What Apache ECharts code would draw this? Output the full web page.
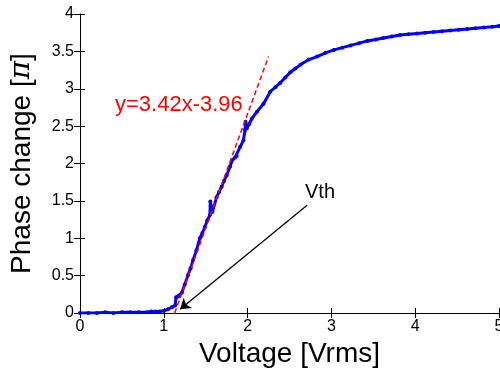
<!DOCTYPE html>
<html>
<head>
<meta charset="utf-8">
<script src="https://cdn.jsdelivr.net/npm/echarts@6/dist/echarts.min.js"></script>
<style>
html, body { margin: 0; padding: 0; background: #fff; }
#chart { width: 500px; height: 370px; }
</style>
</head>
<body>
<div id="chart"></div>
<script>
// measured phase change vs voltage
let voltage = [0.00, 0.10, 0.20, 0.30, 0.40, 0.50, 0.60, 0.70, 0.80, 0.85, 0.90, 0.95, 1.00, 1.05, 1.10, 1.135,
  1.147, 1.17, 1.215, 1.25, 1.29, 1.32, 1.35, 1.39, 1.43, 1.46, 1.49, 1.52, 1.55, 1.555, 1.58, 1.63, 1.66, 1.69,
  1.72, 1.75, 1.79, 1.82, 1.85, 1.87, 1.91, 1.95, 1.97, 1.975, 1.99, 2.02, 2.05, 2.11, 2.19, 2.27, 2.33, 2.39,
  2.45, 2.51, 2.57, 2.63, 2.73, 2.83, 2.93, 3.03, 3.13, 3.23, 3.33, 3.43, 3.53, 3.62, 3.72, 3.82, 3.92, 4.02,
  4.12, 4.22, 4.32, 4.42, 4.52, 4.62, 4.72, 4.82, 4.92, 5.00];
let phase = [0.00, 0.00, 0.00, 0.01, 0.00, 0.01, 0.01, 0.01, 0.01, 0.02, 0.02, 0.02, 0.03, 0.05, 0.08, 0.10,
  0.21, 0.22, 0.27, 0.38, 0.51, 0.60, 0.71, 0.84, 1.00, 1.07, 1.15, 1.24, 1.31, 1.49, 1.35, 1.55, 1.62, 1.69,
  1.77, 1.84, 1.96, 2.05, 2.08, 2.10, 2.22, 2.31, 2.45, 2.56, 2.47, 2.53, 2.60, 2.69, 2.80, 2.96, 3.02, 3.08,
  3.15, 3.22, 3.27, 3.32, 3.39, 3.43, 3.48, 3.52, 3.55, 3.58, 3.61, 3.64, 3.66, 3.68, 3.70, 3.72, 3.73, 3.74,
  3.75, 3.76, 3.77, 3.78, 3.79, 3.80, 3.81, 3.82, 3.83, 3.84];

// linear fit line (as drawn)
let fitX = [1.13, 2.25];
let fitY = [0, 3.43];

// arrow pointing at threshold voltage
let arrowFrom = [2.71, 1.44];
let arrowTo = [1.195, 0.05];

let fitLabel = 'y=3.42x-3.96';
let vthLabel = 'Vth';

let font = 'Liberation Sans, Arial, Helvetica, sans-serif';

let measured = voltage.map((v, i) => [v, phase[i]]);
let fit = fitX.map((v, i) => [v, fitY[i]]);

let myChart = echarts.init(document.getElementById('chart'));
myChart.setOption({
  animation: false,
  grid: {
    left: 80,
    right: 1,
    top: 14,
    bottom: 57,
    outerBoundsMode: 'none'
  },
  xAxis: [{
    type: 'value',
    min: 0,
    max: 5,
    interval: 1,
    name: 'Voltage [Vrms]',
    nameLocation: 'middle',
    nameGap: 27,
    nameTextStyle: { color: '#000', fontSize: 28, fontFamily: font },
    axisLine: { show: true, lineStyle: { color: '#000', width: 1 } },
    axisTick: { inside: true, length: 5, lineStyle: { color: '#000' } },
    axisLabel: { color: '#000', fontSize: 16, fontFamily: font, margin: 6 },
    splitLine: { show: false }
  }, {
    type: 'value',
    position: 'top',
    min: 0,
    max: 5,
    interval: 1,
    axisLine: { show: true, lineStyle: { color: '#000', width: 1 } },
    axisTick: { inside: true, length: 5, lineStyle: { color: '#000' } },
    axisLabel: { show: false },
    splitLine: { show: false }
  }],
  yAxis: [{
    type: 'value',
    min: 0,
    max: 4,
    interval: 0.5,
    name: 'Phase change [{pi|π}]',
    nameLocation: 'middle',
    nameGap: 44,
    nameTextStyle: {
      color: '#000',
      fontSize: 28,
      fontFamily: font,
      rich: {
        pi: { fontSize: 28, fontFamily: 'DejaVu Serif, serif', fontStyle: 'italic', color: '#000' }
      }
    },
    axisLine: { show: true, lineStyle: { color: '#000', width: 1 } },
    axisTick: { inside: true, length: 5, lineStyle: { color: '#000' } },
    axisLabel: { color: '#000', fontSize: 16, fontFamily: font, margin: 6 },
    splitLine: { show: false }
  }, {
    type: 'value',
    position: 'right',
    min: 0,
    max: 4,
    interval: 0.5,
    axisLine: { show: false },
    axisTick: { show: true, inside: true, length: 6, lineStyle: { color: '#000' } },
    axisLabel: { show: false },
    splitLine: { show: false }
  }],
  series: [{
    name: 'measured',
    type: 'line',
    data: measured,
    symbol: 'circle',
    symbolSize: 4,
    showSymbol: true,
    itemStyle: { color: '#0000ff' },
    lineStyle: { color: '#0000ff', width: 3 },
    z: 2
  }, {
    name: 'fit',
    type: 'line',
    data: fit,
    symbol: 'none',
    lineStyle: { color: '#ff0000', width: 1.5, type: [5, 3] },
    z: 3,
    markLine: {
      silent: true,
      symbol: ['none', 'arrow'],
      symbolSize: 10,
      label: { show: false },
      lineStyle: { color: '#000', width: 1.3, type: 'solid' },
      data: [[{ coord: arrowFrom }, { coord: arrowTo }]]
    }
  }],
  graphic: [{
    type: 'text',
    left: 115,
    top: 94,
    style: { text: fitLabel, fill: '#ff0000', fontSize: 22, fontFamily: font }
  }, {
    type: 'text',
    left: 305,
    top: 182,
    style: { text: vthLabel, fill: '#000', fontSize: 20, fontFamily: font }
  }]
});
</script>
</body>
</html>
